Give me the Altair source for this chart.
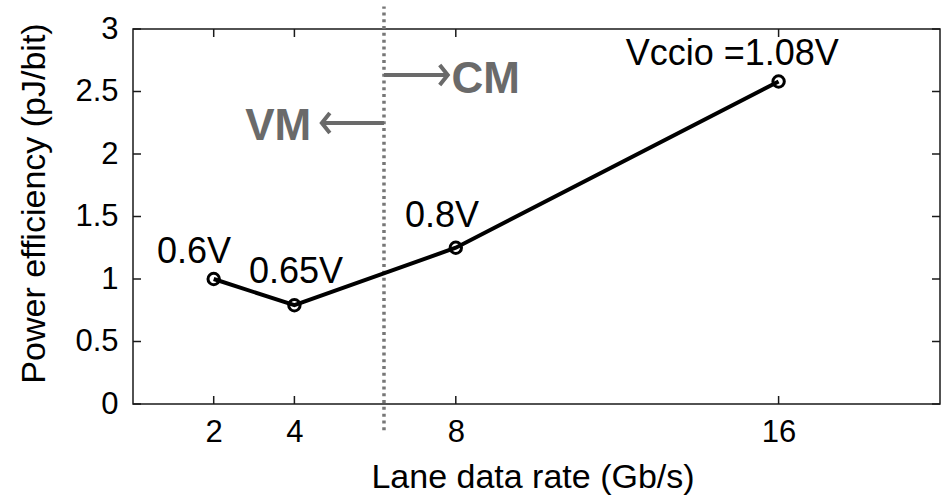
import altair as alt
import pandas as pd

# ---- data ----
rates = [2, 4, 8, 16]                      # Lane data rate (Gb/s)
efficiency = [1.0, 0.79, 1.25, 2.58]       # Power efficiency (pJ/bit)

volt_labels = ["0.6V", "0.65V", "0.8V", "Vccio =1.08V"]
volt_label_x = [1.51, 4.04, 7.66, 14.85]
volt_label_y = [1.128, 0.968, 1.416, 2.712]

boundary_x = 6.22
boundary_y = [-0.21, 3.18]

mode_labels = ["VM", "CM"]
mode_label_x = [3.60, 8.74]
mode_label_y = [2.112, 2.488]
arrow_head_x = [4.68, 7.80]
arrow_y = [2.248, 2.632]

x_ticks = [2, 4, 8, 16]
y_ticks = [0, 0.5, 1, 1.5, 2, 2.5, 3]

X_DOMAIN = [0, 20]
Y_DOMAIN = [0, 3]
W, H = 807, 375
FONT = "Liberation Sans"
GRAY = "#6a6a6a"

df = pd.DataFrame({"rate": rates, "eff": efficiency})
df_vl = pd.DataFrame({"x": volt_label_x, "y": volt_label_y, "t": volt_labels})
df_bd = pd.DataFrame({"x": [boundary_x], "y": [boundary_y[0]], "y2": [boundary_y[1]]})
df_mode = pd.DataFrame({"x": mode_label_x, "y": mode_label_y, "t": mode_labels})
df_arrow = pd.DataFrame({"x": [boundary_x, boundary_x], "x2": arrow_head_x, "y": arrow_y})
df_left = df_arrow.iloc[[0]]
df_right = df_arrow.iloc[[1]]
df_xt = pd.DataFrame({"v": x_ticks})
df_yt = pd.DataFrame({"v": y_ticks})

xs = alt.Scale(domain=X_DOMAIN, nice=False, zero=False)
ys = alt.Scale(domain=Y_DOMAIN, nice=False, zero=False)

x_axis = alt.Axis(
    values=x_ticks, ticks=False, tickSize=0, domain=False, grid=False,
    labelFont=FONT, labelFontSize=31, labelColor="black", labelPadding=13,
    title="Lane data rate (Gb/s)", titleFont=FONT, titleFontSize=34,
    titleFontWeight="normal", titleColor="black",
    titleBaseline="alphabetic", titleY=83, titleX=W / 2 - 4, titleAlign="center",
)
y_axis = alt.Axis(
    values=y_ticks, format="~g", ticks=False, tickSize=0, domain=False, grid=False,
    labelFont=FONT, labelFontSize=31, labelColor="black", labelPadding=15,
    title="Power efficiency (pJ/bit)", titleFont=FONT, titleFontSize=34,
    titleFontWeight="normal", titleColor="black",
    titleBaseline="alphabetic", titleX=-89, titleY=174, titleAlign="center",
    titleAngle=270,
)


def X(field):
    return alt.X(field, scale=xs, axis=x_axis)


def Y(field):
    return alt.Y(field, scale=ys, axis=y_axis)


line = alt.Chart(df).mark_line(color="black", strokeWidth=4).encode(
    x=X("rate:Q"), y=Y("eff:Q"),
)
pts = alt.Chart(df).mark_point(
    shape="circle", filled=False, color="black", strokeWidth=3, size=130, opacity=1
).encode(x=X("rate:Q"), y=Y("eff:Q"))

vtext = alt.Chart(df_vl).mark_text(
    font=FONT, fontSize=36, color="black", align="center", baseline="alphabetic"
).encode(x=X("x:Q"), y=Y("y:Q"), text="t:N")

boundary = alt.Chart(df_bd).mark_rule(
    color="#777777", strokeWidth=3.5, strokeDash=[3, 3.8], clip=False
).encode(x=X("x:Q"), y=Y("y:Q"), y2="y2:Q")

mtext = alt.Chart(df_mode).mark_text(
    font=FONT, fontSize=44, fontWeight="bold", color=GRAY,
    align="center", baseline="alphabetic"
).encode(x=X("x:Q"), y=Y("y:Q"), text="t:N")

arrows = alt.Chart(df_arrow).mark_rule(color=GRAY, strokeWidth=4).encode(
    x=X("x:Q"), x2="x2:Q", y=Y("y:Q"),
)
head_left = alt.Chart(df_left).mark_point(
    shape="M0.8,-1L0,0L0.8,1", filled=False, color=GRAY, strokeWidth=4,
    size=400, opacity=1, strokeJoin="miter"
).encode(x=X("x2:Q"), y=Y("y:Q"))
head_right = alt.Chart(df_right).mark_point(
    shape="M-0.8,-1L0,0L-0.8,1", filled=False, color=GRAY, strokeWidth=4,
    size=400, opacity=1, strokeJoin="miter"
).encode(x=X("x2:Q"), y=Y("y:Q"))

TICK = 8
tick_color = "#1a1a1a"
xt_bottom = alt.Chart(df_xt).mark_rule(color=tick_color, strokeWidth=1.5).encode(
    x=X("v:Q"), y=alt.value(H), y2=alt.value(H - TICK))
xt_top = alt.Chart(df_xt).mark_rule(color=tick_color, strokeWidth=1.5).encode(
    x=X("v:Q"), y=alt.value(0), y2=alt.value(TICK))
yt_left = alt.Chart(df_yt).mark_rule(color=tick_color, strokeWidth=1.5).encode(
    y=Y("v:Q"), x=alt.value(0), x2=alt.value(TICK))
yt_right = alt.Chart(df_yt).mark_rule(color=tick_color, strokeWidth=1.5).encode(
    y=Y("v:Q"), x=alt.value(W), x2=alt.value(W - TICK))

chart = alt.layer(
    xt_bottom, xt_top, yt_left, yt_right,
    boundary, arrows, head_left, head_right, mtext,
    line, pts, vtext,
).properties(
    width=W, height=H,
    padding={"left": 133, "top": 29, "right": 5, "bottom": 91},
    autosize=alt.AutoSizeParams(type="none"),
    background="white",
).configure_view(
    stroke="#1a1a1a", strokeWidth=1.5
)

chart.save("out.html", embed_options={"renderer": "svg", "actions": False})
